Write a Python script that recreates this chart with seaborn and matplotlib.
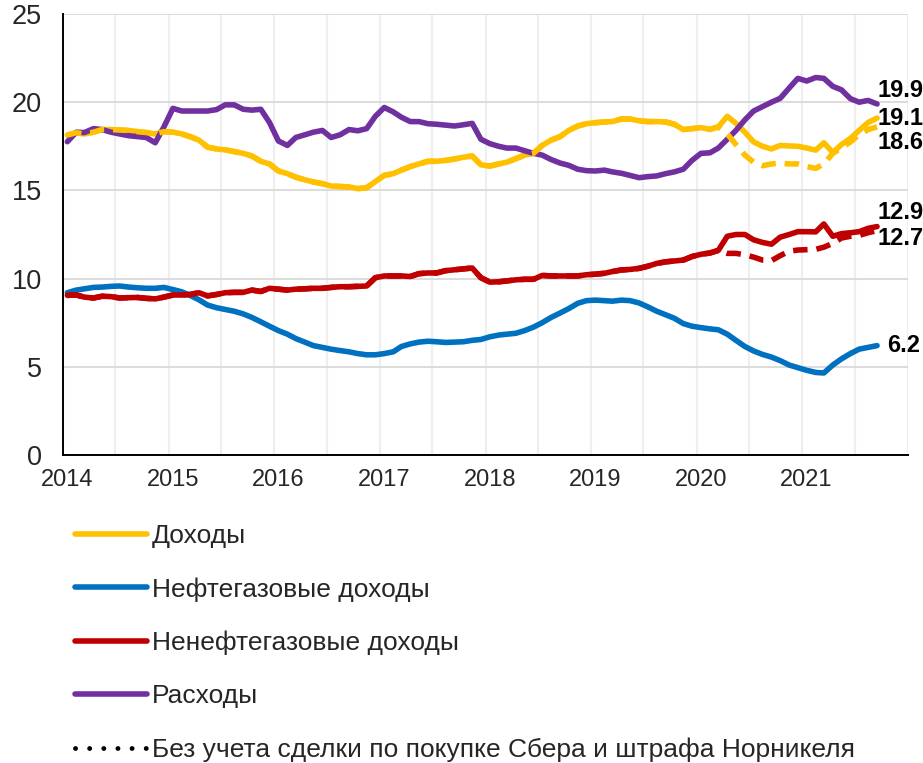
import numpy as np
import pandas as pd
import matplotlib
matplotlib.use("Agg")
import matplotlib.pyplot as plt
import matplotlib.dates as mdates
import matplotlib.transforms as mtransforms
from matplotlib.lines import Line2D
import seaborn as sns

# ---------------- data (% ВВП, monthly, Jan 2014 – Sep 2021) ----------------
months = pd.date_range("2014-01-01", periods=93, freq="MS") + pd.Timedelta(days=15)

revenue = [18.14, 18.27, 18.2, 18.3, 18.45, 18.45, 18.42, 18.4, 18.33, 18.28, 18.2, 18.33,
           18.3, 18.2, 18.05, 17.85, 17.45, 17.35, 17.3, 17.2, 17.1, 16.95, 16.65, 16.5,
           16.1, 15.95, 15.75, 15.6, 15.48, 15.38, 15.25, 15.22, 15.2, 15.1, 15.15, 15.5,
           15.85, 15.95, 16.15, 16.35, 16.5, 16.65, 16.65, 16.7, 16.78, 16.88, 16.95, 16.45,
           16.38, 16.5, 16.6, 16.8, 17.0, 17.1, 17.55, 17.85, 18.05, 18.4, 18.65, 18.78,
           18.84, 18.88, 18.9, 19.05, 19.05, 18.95, 18.9, 18.9, 18.88, 18.75, 18.45, 18.5,
           18.56, 18.46, 18.6, 19.2, 18.8, 18.3, 17.75, 17.5, 17.35, 17.55, 17.52, 17.5,
           17.4, 17.28, 17.7, 17.15, 17.6, 17.95, 18.4, 18.85, 19.1]

revenue_adj = revenue[:75] + [18.2, 17.6, 17.0, 16.6, 16.4, 16.5, 16.55, 16.5, 16.5,
                              16.35, 16.25, 16.5, 17.1, 17.4, 17.75, 18.15, 18.45, 18.6]

oil_gas = [9.2, 9.35, 9.42, 9.5, 9.52, 9.56, 9.58, 9.52, 9.48, 9.45, 9.45, 9.5,
           9.38, 9.25, 9.05, 8.8, 8.5, 8.35, 8.25, 8.15, 8.0, 7.8, 7.55, 7.3,
           7.05, 6.85, 6.6, 6.4, 6.2, 6.1, 6.0, 5.92, 5.85, 5.75, 5.68, 5.68,
           5.75, 5.85, 6.15, 6.3, 6.4, 6.45, 6.42, 6.38, 6.4, 6.42, 6.5, 6.55,
           6.7, 6.8, 6.85, 6.9, 7.05, 7.25, 7.5, 7.8, 8.05, 8.3, 8.6, 8.75,
           8.78, 8.75, 8.72, 8.78, 8.75, 8.62, 8.4, 8.15, 7.95, 7.75, 7.45, 7.3,
           7.22, 7.15, 7.1, 6.85, 6.5, 6.15, 5.9, 5.7, 5.55, 5.35, 5.1, 4.95,
           4.8, 4.68, 4.65, 5.1, 5.45, 5.75, 6.0, 6.1, 6.2]

non_oil_gas = [9.05, 9.07, 8.95, 8.9, 9.0, 8.98, 8.9, 8.92, 8.93, 8.88, 8.85, 8.95,
               9.07, 9.07, 9.1, 9.2, 9.02, 9.1, 9.2, 9.22, 9.22, 9.35, 9.27, 9.45,
               9.4, 9.35, 9.4, 9.42, 9.45, 9.45, 9.5, 9.54, 9.54, 9.56, 9.58, 10.05,
               10.15, 10.15, 10.15, 10.12, 10.28, 10.32, 10.32, 10.45, 10.5, 10.55, 10.6, 10.05,
               9.8, 9.82, 9.87, 9.93, 9.96, 9.96, 10.18, 10.15, 10.15, 10.15, 10.15, 10.22,
               10.25, 10.3, 10.4, 10.49, 10.52, 10.58, 10.7, 10.86, 10.95, 11.0, 11.05, 11.25,
               11.38, 11.45, 11.6, 12.4, 12.5, 12.5, 12.2, 12.05, 11.95, 12.35, 12.5, 12.66,
               12.66, 12.65, 13.1, 12.4, 12.55, 12.6, 12.66, 12.85, 12.95]

non_oil_gas_adj = non_oil_gas[:75] + [11.43, 11.43, 11.35, 11.22, 11.05, 11.02, 11.3, 11.55,
                                      11.62, 11.64, 11.66, 11.78, 12.0, 12.3, 12.4, 12.45,
                                      12.6, 12.72]

spending = [17.76, 18.3, 18.28, 18.5, 18.45, 18.3, 18.2, 18.1, 18.05, 18.0, 17.7, 18.6,
            19.65, 19.5, 19.5, 19.5, 19.5, 19.58, 19.85, 19.85, 19.6, 19.55, 19.6, 18.85,
            17.8, 17.55, 18.0, 18.15, 18.3, 18.4, 18.0, 18.15, 18.45, 18.38, 18.5, 19.2,
            19.7, 19.45, 19.15, 18.9, 18.9, 18.78, 18.75, 18.7, 18.65, 18.72, 18.8, 17.9,
            17.65, 17.5, 17.4, 17.4, 17.25, 17.1, 17.0, 16.75, 16.55, 16.42, 16.2, 16.12,
            16.1, 16.15, 16.05, 15.97, 15.85, 15.72, 15.78, 15.82, 15.95, 16.05, 16.2, 16.7,
            17.1, 17.13, 17.4, 17.9, 18.4, 19.0, 19.5, 19.75, 20.0, 20.22, 20.8, 21.35,
            21.2, 21.4, 21.35, 20.9, 20.7, 20.2, 20.0, 20.1, 19.9]

labels = ["Доходы", "Нефтегазовые доходы", "Ненефтегазовые доходы", "Расходы",
          "Без учета сделки по покупке Сбера и штрафа Норникеля"]
year_labels = ["2014", "2015", "2016", "2017", "2018", "2019", "2020", "2021", ""]
end_labels = ["19.9", "19.1", "18.6", "12.9", "12.7", "6.2"]

C_YEL, C_BLU, C_RED, C_PUR = "#FFC000", "#0070C0", "#C00000", "#7030A0"

# ---------------- style ----------------
sns.set_style("white")
plt.rcParams["font.family"] = ["Liberation Sans", "DejaVu Sans"]
FS_X = 17
FS_Y = 19.5
FS_LEG = 19
FS_END = 17

fig = plt.figure(figsize=(9.23, 7.63), dpi=100)
ax = fig.add_axes([0.06826, 0.40367, 0.91549, 0.57798])

LW = 4
DASH = (2.6, 1.6)

def draw(vals, color, dashed=False):
    sns.lineplot(x=months, y=vals, color=color, linewidth=LW, ax=ax, legend=False)
    ln = ax.lines[-1]
    ln.set_solid_capstyle("round")
    ln.set_solid_joinstyle("round")
    if dashed:
        ln.set_dashes(DASH)
        ln.set_dash_capstyle("butt")
    return ln

draw(revenue, C_YEL)
draw(oil_gas, C_BLU)
draw(non_oil_gas, C_RED)
draw(spending, C_PUR)
draw(revenue_adj, C_YEL, dashed=True)
draw(non_oil_gas_adj, C_RED, dashed=True)

# axes
ax.set_xlim(pd.Timestamp("2014-01-01"), pd.Timestamp("2022-01-01"))
ax.set_ylim(0, 25)
ax.set_yticks([0, 5, 10, 15, 20, 25])
ax.set_yticklabels(["0", "5", "10", "15", "20", "25"])
years = [pd.Timestamp(f"{y}-01-01") for y in range(2014, 2023)]
ax.set_xticks(years)
ax.set_xticklabels(year_labels)
ax.set_xticks([pd.Timestamp(f"{y}-07-01") for y in range(2014, 2022)], minor=True)
ax.set_xlabel("")
ax.set_ylabel("")

ax.set_axisbelow(True)
ax.yaxis.grid(True, color="#D9D9D9", linewidth=1.3)
ax.xaxis.grid(True, which="both", color="#EFEFEF", linewidth=1.6)
ax.tick_params(axis="x", which="minor", length=0)
ax.tick_params(axis="x", which="major", direction="out", length=6, width=1.3,
               color="black", labelsize=FS_X, pad=4)
ax.tick_params(axis="y", direction="out", length=6, width=1.3, color="black",
               labelsize=FS_Y, pad=9)
for lab in ax.get_xticklabels():
    lab.set_transform(lab.get_transform() + mtransforms.ScaledTranslation(3 / 72, 0, fig.dpi_scale_trans))
for s in ["top", "right"]:
    ax.spines[s].set_visible(False)
for s in ["left", "bottom"]:
    ax.spines[s].set_color("black")
    ax.spines[s].set_linewidth(1.4)

# end labels
last = months[-1]
end_vals = [spending[-1], revenue[-1], revenue_adj[-1], non_oil_gas[-1], non_oil_gas_adj[-1], oil_gas[-1]]
offsets = [(0.5, 10), (0.5, 0), (0.5, -11), (0.5, 10), (0.5, -6), (7, 0)]
for txt, v, (dx, dy) in zip(end_labels, end_vals, offsets):
    ax.annotate(txt, xy=(last, v), xytext=(dx, dy), textcoords="offset points",
                ha="left", va="center", fontsize=FS_END, fontweight="bold",
                color="black", annotation_clip=False)

# legend
handles = [Line2D([], [], color=C_YEL, lw=LW, solid_capstyle="round"),
           Line2D([], [], color=C_BLU, lw=LW, solid_capstyle="round"),
           Line2D([], [], color=C_RED, lw=LW, solid_capstyle="round"),
           Line2D([], [], color=C_PUR, lw=LW, solid_capstyle="round"),
           Line2D([], [], color="black", lw=3.5, linestyle=(0, (0.01, 2.9)),
                  dash_capstyle="round")]
fig.legend(handles, labels, loc="upper left", bbox_to_anchor=(0.081, 0.313),
           frameon=False, fontsize=FS_LEG, handlelength=2.73, handletextpad=0.19,
           labelspacing=1.1, borderpad=0, borderaxespad=0)

fig.savefig("out.png", dpi=100)
